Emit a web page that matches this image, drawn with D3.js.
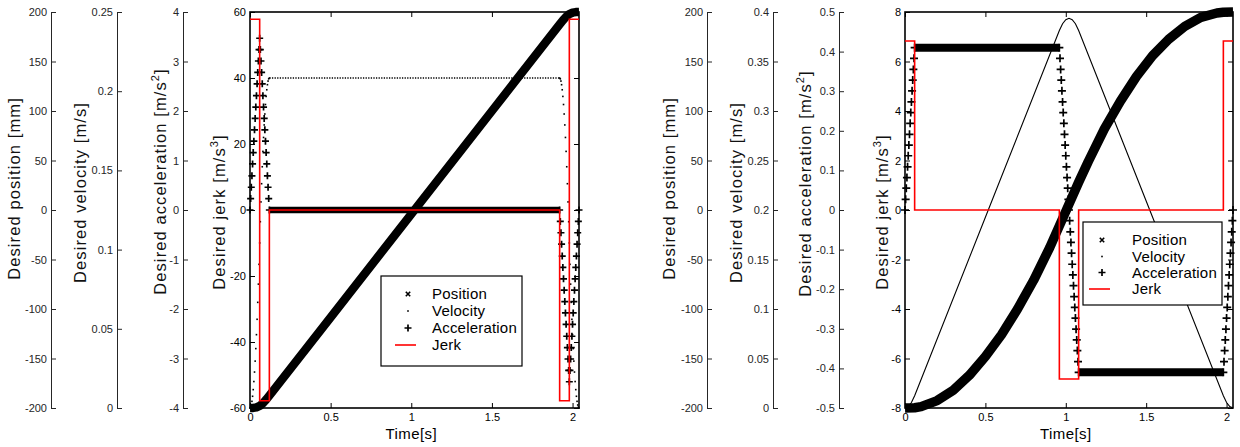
<!DOCTYPE html>
<html>
<head>
<meta charset="utf-8">
<script src="https://cdn.jsdelivr.net/npm/d3@7"></script>
<style>
body { margin: 0; background: #fff; }
text { font-family: Arial, "Liberation Sans", sans-serif; }
</style>
</head>
<body>
<svg id="chart" width="1240" height="447"></svg>
<script>
// ---- ticks ----
var timeTicks = [0, 0.5, 1, 1.5, 2];
var posTicks = [-200, -150, -100, -50, 0, 50, 100, 150, 200];
var velTicksL = [0, 0.05, 0.1, 0.15, 0.2, 0.25];
var accTicksL = [-4, -3, -2, -1, 0, 1, 2, 3, 4];
var jerkTicksL = [-60, -40, -20, 0, 20, 40, 60];
var velTicksR = [0, 0.05, 0.1, 0.15, 0.2, 0.25, 0.3, 0.35, 0.4];
var accTicksR = [-0.5, -0.4, -0.3, -0.2, -0.1, 0, 0.1, 0.2, 0.3, 0.4, 0.5];
var jerkTicksR = [-8, -6, -4, -2, 0, 2, 4, 6, 8];
var legendNames = ["Position", "Velocity", "Acceleration", "Jerk"];

// ---- left panel data ----
var tRampL1 = [0,0.004,0.008,0.012,0.016,0.02,0.024,0.028,0.032,0.036,0.04,0.044,0.048,0.052,0.056,0.06,
  0.064,0.068,0.072,0.076,0.08,0.084,0.088,0.092,0.096,0.1,0.104,0.108,0.112,0.116,0.12];
var accRampL1 = [0,0.23,0.46,0.69,0.93,1.16,1.39,1.62,1.85,2.08,2.31,2.55,2.78,3.01,3.24,3.47,
  3.24,3.01,2.78,2.55,2.31,2.08,1.85,1.62,1.39,1.16,0.93,0.69,0.46,0.23,0];
var velRampL1 = [0,0.0005,0.0019,0.0042,0.0074,0.0116,0.0167,0.0227,0.0296,0.0375,0.0463,0.056,0.0667,0.0782,0.0907,0.1042,
  0.1176,0.1301,0.1416,0.1523,0.162,0.1708,0.1787,0.1856,0.1916,0.1967,0.2009,0.2041,0.2064,0.2078,0.2083];
var tRampL2 = [1.92,1.924,1.928,1.932,1.936,1.94,1.944,1.948,1.952,1.956,1.96,1.964,1.968,1.972,1.976,1.98,
  1.984,1.988,1.992,1.996,2.0,2.004,2.008,2.012,2.016,2.02,2.024,2.028,2.032,2.036,2.04];
var accRampL2 = [0,-0.23,-0.46,-0.69,-0.93,-1.16,-1.39,-1.62,-1.85,-2.08,-2.31,-2.55,-2.78,-3.01,-3.24,-3.47,
  -3.24,-3.01,-2.78,-2.55,-2.31,-2.08,-1.85,-1.62,-1.39,-1.16,-0.93,-0.69,-0.46,-0.23,0];
var velRampL2 = [0.2083,0.2078,0.2064,0.2041,0.2009,0.1967,0.1916,0.1856,0.1787,0.1708,0.162,0.1523,0.1416,0.1301,0.1176,0.1042,
  0.0907,0.0782,0.0667,0.056,0.0463,0.0375,0.0296,0.0227,0.0167,0.0116,0.0074,0.0042,0.0019,0.0005,0];
var tBandL = [[0.12, 1.92]];
var accBandL = [0];
var tVelFlatL = [0.12, 1.92];
var velFlatL = [0.2083, 0.2083];
var tPosL = [0,0.02,0.04,0.06,0.08,0.1,0.12,0.5,1.0,1.5,1.92,1.94,1.96,1.98,2.0,2.02,2.04];
var posL = [-200,-199.92,-199.38,-197.92,-195.22,-191.59,-187.5,-108.35,-4.2,100,187.5,191.59,195.22,197.92,199.38,199.92,200];
var tJerkL = [0, 0.06, 0.12, 1.92, 1.98, 2.04];
var jerkL = [57.8, -57.8, 0, -57.8, 57.8, 57.8];

// ---- right panel data ----
var tRampR1 = [0,0.004,0.008,0.012,0.016,0.02,0.024,0.028,0.032,0.036,0.04,0.044,0.048,0.052,0.056,0.06];
var accRampR1 = [0,0.027,0.055,0.082,0.109,0.137,0.164,0.191,0.219,0.246,0.273,0.301,0.328,0.355,0.383,0.41];
var tRampR2 = [0.96,0.964,0.968,0.972,0.976,0.98,0.984,0.988,0.992,0.996,1.0,1.004,1.008,1.012,1.016,1.02,
  1.024,1.028,1.032,1.036,1.04,1.044,1.048,1.052,1.056,1.06,1.064,1.068,1.072,1.076,1.08];
var accRampR2 = [0.41,0.383,0.355,0.328,0.301,0.273,0.246,0.219,0.191,0.164,0.137,0.109,0.082,0.055,0.027,0,
  -0.027,-0.055,-0.082,-0.109,-0.137,-0.164,-0.191,-0.219,-0.246,-0.273,-0.301,-0.328,-0.355,-0.383,-0.41];
var tRampR3 = [1.98,1.984,1.988,1.992,1.996,2.0,2.004,2.008,2.012,2.016,2.02,2.024,2.028,2.032,2.036,2.04];
var accRampR3 = [-0.41,-0.383,-0.355,-0.328,-0.301,-0.273,-0.246,-0.219,-0.191,-0.164,-0.137,-0.109,-0.082,-0.055,-0.027,0];
var tBandR = [[0.06, 0.96], [1.08, 1.98]];
var accBandR = [0.41, -0.41];
var tVelR = [0,0.02,0.04,0.06,0.5,0.96,0.98,1.0,1.02,1.04,1.06,1.08,1.54,1.98,2.0,2.02,2.04];
var velR = [0,0.0014,0.0055,0.0123,0.1927,0.3813,0.3881,0.3922,0.3936,0.3922,0.3881,0.3813,0.1927,0.0123,0.0055,0.0014,0];
var tPosR = [0,0.06,0.1,0.2,0.3,0.4,0.5,0.6,0.7,0.8,0.9,0.96,1.02,1.08,1.14,1.24,1.34,1.44,1.54,1.64,1.74,1.84,1.94,1.98,2.04];
var posR = [-200,-199.7,-198.6,-192.5,-182,-167,-148,-126,-100,-71,-38,-16,6,
  28,49,82,110,135,156,172.5,185.5,194.5,199,199.8,200];
var tJerkR = [0, 0.06, 0.96, 1.08, 1.98, 2.04];
var jerkR = [6.83, 0, -6.83, 0, 6.83, 6.83];

var yTop = 12, yBottom = 408;
var svg = d3.select("#chart");
var fmt = function(d) { return String(d); };
var zip = function(a, b) { return a.map(function(v, i) { return [v, b[i]]; }); };
var plusPath = function(s) { return "M" + (-s) + ",0H" + s + "M0," + (-s) + "V" + s; };
var crossPath = function(s) { return "M" + (-s) + "," + (-s) + "L" + s + "," + s + "M" + (-s) + "," + s + "L" + s + "," + (-s); };

function styleAxis(sel, color) {
    sel.attr("font-size", 11).attr("font-family", "Arial, 'Liberation Sans', sans-serif").attr("color", color);
}

var panels = [
    { x0: 250, x1: 579, axX: [51, 117, 183], labX: [15, 81, 161, 220], labY: [188.5, 192.5, 181.5, 212],
      velDom: [0, 0.25], velTicks: velTicksL, accDom: [-4, 4], accTicks: accTicksL, jerkDom: [-60, 60], jerkTicks: jerkTicksL,
      ramps: [[tRampL1, accRampL1, velRampL1], [tRampL2, accRampL2, velRampL2]],
      bands: [tBandL, accBandL], velLine: [tVelFlatL, velFlatL], velDotted: true,
      pos: [tPosL, posL], jerk: [tJerkL, jerkL], mk: 3.5, posW: 8.5, bandW: 6.5,
      legend: { x: 381, y: 276, w: 141, h: 90, mx: 408, tx: 432, rows: [299, 316, 333, 350] } },
    { x0: 905, x1: 1233, axX: [707, 773, 839], labX: [670, 737, 806, 883], labY: [188.5, 192.5, 183.5, 212],
      velDom: [0, 0.4], velTicks: velTicksR, accDom: [-0.5, 0.5], accTicks: accTicksR, jerkDom: [-8, 8], jerkTicks: jerkTicksR,
      ramps: [[tRampR1, accRampR1], [tRampR2, accRampR2], [tRampR3, accRampR3]],
      bands: [tBandR, accBandR], velLine: [tVelR, velR], velDotted: false,
      pos: [tPosR, posR], jerk: [tJerkR, jerkR], mk: 4, posW: 9.5, bandW: 8,
      legend: { x: 1083, y: 222, w: 139, h: 83, mx: 1102, tx: 1132, rows: [245, 261.5, 277.5, 294] } }
];

panels.forEach(function(p) {
    var g = svg.append("g");
    var x = d3.scaleLinear().domain([0, 2.04]).range([p.x0, p.x1]);
    var yPos = d3.scaleLinear().domain([-200, 200]).range([yBottom, yTop]);
    var yVel = d3.scaleLinear().domain(p.velDom).range([yBottom, yTop]);
    var yAcc = d3.scaleLinear().domain(p.accDom).range([yBottom, yTop]);
    var yJerk = d3.scaleLinear().domain(p.jerkDom).range([yBottom, yTop]);

    // stand-alone axes for position, velocity, acceleration
    [[yPos, posTicks], [yVel, p.velTicks], [yAcc, p.accTicks]].forEach(function(a, i) {
        g.append("g")
            .attr("transform", "translate(" + p.axX[i] + ",0)")
            .call(d3.axisLeft(a[0]).tickValues(a[1]).tickFormat(fmt).tickSize(-5).tickSizeOuter(0).tickPadding(4))
            .call(styleAxis, "#262626");
    });

    // axis labels
    var labels = [["Desired position [mm]"], ["Desired velocity [m/s]"],
                  ["Desired acceleration [m/s", "2", "]"], ["Desired jerk [m/s", "3", "]"]];
    labels.forEach(function(l, i) {
        var t = g.append("text")
            .attr("transform", "translate(" + (p.labX[i] + 4.5) + "," + p.labY[i] + ") rotate(-90)")
            .attr("text-anchor", "middle")
            .attr("font-size", 16.5)
            .attr("letter-spacing", 1.1)
            .attr("fill", "#111");
        t.append("tspan").text(l[0]);
        if (l.length > 1) {
            t.append("tspan").attr("font-size", 11).attr("dy", -7).text(l[1]);
            t.append("tspan").attr("dy", 7).text(l[2]);
        }
    });

    // plot box axes
    var bx = g.append("g");
    bx.append("g").attr("transform", "translate(" + p.x0 + ",0)")
        .call(d3.axisLeft(yJerk).tickValues(p.jerkTicks).tickFormat(fmt).tickSize(-5).tickPadding(4))
        .call(styleAxis, "#000");
    bx.append("g").attr("transform", "translate(" + p.x1 + ",0)")
        .call(d3.axisRight(yJerk).tickValues(p.jerkTicks).tickFormat("").tickSize(-5))
        .call(styleAxis, "#000");
    bx.append("g").attr("transform", "translate(0," + yBottom + ")")
        .call(d3.axisBottom(x).tickValues(timeTicks).tickFormat(fmt).tickSize(-5).tickPadding(5))
        .call(styleAxis, "#000");
    bx.append("g").attr("transform", "translate(0," + yTop + ")")
        .call(d3.axisTop(x).tickValues(timeTicks).tickFormat("").tickSize(-5))
        .call(styleAxis, "#000");
    bx.selectAll(".domain").remove();
    bx.append("rect")
        .attr("x", p.x0).attr("y", yTop)
        .attr("width", p.x1 - p.x0).attr("height", yBottom - yTop)
        .attr("fill", "none").attr("stroke", "#000").attr("stroke-width", 1.6);

    g.append("text")
        .attr("x", x(1)).attr("y", 439)
        .attr("text-anchor", "middle")
        .attr("font-size", 15).attr("letter-spacing", 0.4)
        .text("Time[s]");

    // position (dense x markers -> thick band)
    g.append("path")
        .datum(zip(p.pos[0], p.pos[1]))
        .attr("fill", "none").attr("stroke", "#000")
        .attr("stroke-width", p.posW).attr("stroke-linejoin", "round")
        .attr("d", d3.line().x(function(d) { return x(d[0]); }).y(function(d) { return yPos(d[1]); }));

    // velocity
    var velG = g.append("g");
    velG.append("path")
        .datum(zip(p.velLine[0], p.velLine[1]))
        .attr("fill", "none").attr("stroke", "#000")
        .attr("stroke-width", p.velDotted ? 1.4 : 1.1)
        .attr("stroke-dasharray", p.velDotted ? "1.3,1.3" : null)
        .attr("d", d3.line().x(function(d) { return x(d[0]); }).y(function(d) { return yVel(d[1]); }));
    p.ramps.forEach(function(r) {
        if (!r[2]) return;
        velG.selectAll(null).data(zip(r[0], r[2])).enter().append("rect")
            .attr("x", function(d) { return x(d[0]) - 0.8; })
            .attr("y", function(d) { return yVel(d[1]) - 0.8; })
            .attr("width", 1.6).attr("height", 1.6).attr("fill", "#000");
    });

    // acceleration: flat segments (overlapping + markers) and ramp markers
    p.bands[0].forEach(function(seg, i) {
        g.append("path")
            .datum(seg.map(function(t) { return [t, p.bands[1][i]]; }))
            .attr("fill", "none").attr("stroke", "#000").attr("stroke-width", p.bandW)
            .attr("d", d3.line().x(function(d) { return x(d[0]); }).y(function(d) { return yAcc(d[1]); }));
    });
    p.ramps.forEach(function(r) {
        g.selectAll(null).data(zip(r[0], r[1])).enter().append("path")
            .attr("transform", function(d) { return "translate(" + x(d[0]) + "," + yAcc(d[1]) + ")"; })
            .attr("d", plusPath(p.mk))
            .attr("stroke", "#000").attr("stroke-width", 1.7).attr("fill", "none");
    });

    // jerk
    g.append("path")
        .datum(zip(p.jerk[0], p.jerk[1]))
        .attr("fill", "none").attr("stroke", "#f00").attr("stroke-width", 1.6)
        .attr("d", d3.line().curve(d3.curveStepAfter)
            .x(function(d) { return x(d[0]); }).y(function(d) { return yJerk(d[1]); }));

    // legend
    var L = p.legend;
    var lg = g.append("g");
    lg.append("rect").attr("x", L.x).attr("y", L.y).attr("width", L.w).attr("height", L.h)
        .attr("fill", "#fff").attr("stroke", "#000").attr("stroke-width", 1.2);
    legendNames.forEach(function(name, i) {
        var cy = L.rows[i] - 5;
        if (i === 0) {
            lg.append("path").attr("transform", "translate(" + L.mx + "," + cy + ")")
                .attr("d", crossPath(2.2)).attr("stroke", "#000").attr("stroke-width", 1.6);
        } else if (i === 1) {
            lg.append("rect").attr("x", L.mx - 0.8).attr("y", cy - 0.8).attr("width", 1.6).attr("height", 1.6);
        } else if (i === 2) {
            lg.append("path").attr("transform", "translate(" + L.mx + "," + cy + ")")
                .attr("d", plusPath(3.5)).attr("stroke", "#000").attr("stroke-width", 1.7);
        } else {
            lg.append("line").attr("x1", L.mx - 13).attr("x2", L.mx + 8).attr("y1", cy).attr("y2", cy)
                .attr("stroke", "#f00").attr("stroke-width", 1.6);
        }
        lg.append("text").attr("x", L.tx).attr("y", L.rows[i])
            .attr("font-size", 15).attr("letter-spacing", 0.2)
            .text(name);
    });
});
</script>
</body>
</html>
